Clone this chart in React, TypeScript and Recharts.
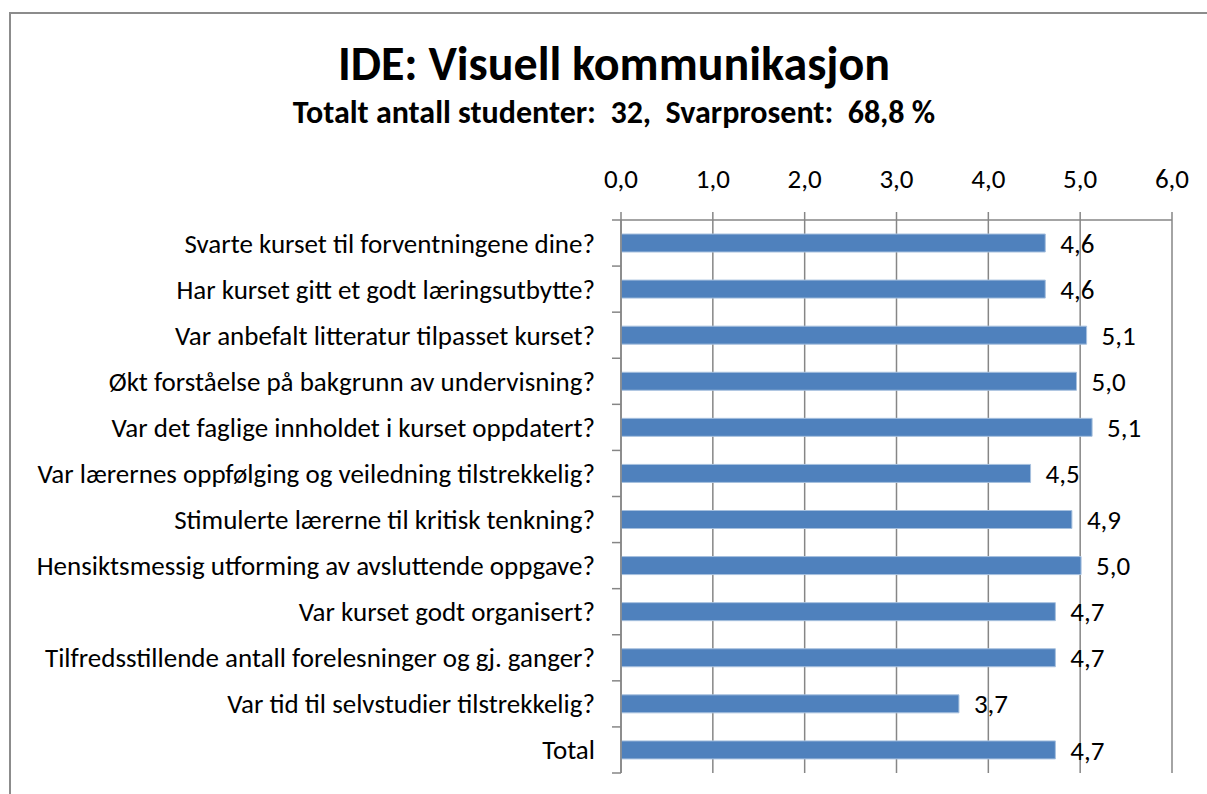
import React from "react";
import { Bar, BarChart, CartesianGrid, LabelList, XAxis, YAxis } from "recharts";

// Survey questions, top to bottom as they appear in the chart.
const QUESTIONS = [
  "Svarte kurset til forventningene dine?",
  "Har kurset gitt et godt læringsutbytte?",
  "Var anbefalt litteratur tilpasset kurset?",
  "Økt forståelse på bakgrunn av undervisning?",
  "Var det faglige innholdet i kurset oppdatert?",
  "Var lærernes oppfølging og veiledning tilstrekkelig?",
  "Stimulerte lærerne til kritisk tenkning?",
  "Hensiktsmessig utforming av avsluttende oppgave?",
  "Var kurset godt organisert?",
  "Tilfredsstillende antall forelesninger og gj. ganger?",
  "Var tid til selvstudier tilstrekkelig?",
  "Total",
];

// Mean scores.
const SCORES = [4.62, 4.62, 5.07, 4.96, 5.13, 4.46, 4.91, 5.01, 4.73, 4.73, 3.68, 4.73];

const X_TICKS = [0, 1, 2, 3, 4, 5, 6];

const TITLE = "IDE: Visuell kommunikasjon";
const SUBTITLE = "Totalt antall studenter:  32,  Svarprosent:  68,8 %";

const FONT = "Carlito, Calibri, Lato, sans-serif";
const BAR_COLOR = "#4f81bd";
const AXIS_COLOR = "#868686";
const TEXT_SIZE = 27;

const fmt = (v: number) => v.toFixed(1).replace(".", ",");

const rows = QUESTIONS.map((q, i) => ({ q, score: SCORES[i] }));

// Excel-style category tick: label at the band centre, tick mark on the band edge.
const CategoryTick = (props: any) => {
  const { x, y, payload, index } = props;
  const band = 553 / QUESTIONS.length;
  const axisX = x + 26;
  const last = index === QUESTIONS.length - 1;

  return (
    <g>
      <text
        dominantBaseline="central"
        fill="#000"
        fontFamily={FONT}
        fontSize={TEXT_SIZE}
        textAnchor="end"
        x={x}
        y={y}
      >
        {payload.value}
      </text>
      <line stroke={AXIS_COLOR} strokeWidth={1.5} x1={axisX - 9} x2={axisX} y1={y - band / 2} y2={y - band / 2} />
      {last && (
        <line stroke={AXIS_COLOR} strokeWidth={1.5} x1={axisX - 9} x2={axisX} y1={y + band / 2} y2={y + band / 2} />
      )}
    </g>
  );
};

export default function App() {
  return (
    <div
      style={{
        position: "absolute",
        left: 0,
        top: 0,
        width: 1207,
        height: 794,
        background: "#fff",
        overflow: "hidden",
        fontFamily: FONT,
      }}
    >
      <div
        style={{
          position: "absolute",
          left: 9,
          top: 12,
          width: 1300,
          height: 900,
          borderTop: "2px solid #8c8c8c",
          borderLeft: "2px solid #8c8c8c",
        }}
      />
      <div
        style={{
          position: "absolute",
          left: 0,
          top: 34,
          width: 1228,
          textAlign: "center",
          fontSize: 48,
          fontWeight: 700,
          lineHeight: "60px",
        }}
      >
        {TITLE}
      </div>
      <div
        style={{
          position: "absolute",
          left: 0,
          top: 94,
          width: 1228,
          textAlign: "center",
          fontSize: 32,
          fontWeight: 700,
          lineHeight: "38px",
          whiteSpace: "pre",
        }}
      >
        {SUBTITLE}
      </div>
      <div style={{ position: "absolute", left: 0, top: 0 }}>
        <BarChart
          barSize={18}
          data={rows}
          height={794}
          layout="vertical"
          margin={{ top: 180, right: 35, bottom: 21, left: 0 }}
          width={1207}
        >
          <CartesianGrid horizontal={false} stroke={AXIS_COLOR} strokeWidth={1.5} />
          <XAxis
            axisLine={{ stroke: AXIS_COLOR, strokeWidth: 1.5 }}
            domain={[0, 6]}
            height={40}
            orientation="top"
            tick={{ fill: "#000", fontSize: TEXT_SIZE, fontFamily: FONT }}
            tickFormatter={fmt}
            tickLine={{ stroke: AXIS_COLOR, strokeWidth: 1.5 }}
            tickMargin={24}
            tickSize={8}
            ticks={X_TICKS}
            type="number"
          />
          <YAxis
            axisLine={{ stroke: AXIS_COLOR, strokeWidth: 1.5 }}
            dataKey="q"
            interval={0}
            tick={<CategoryTick />}
            tickLine={false}
            tickMargin={0}
            tickSize={26}
            type="category"
            width={621}
          />
          <Bar dataKey="score" fill={BAR_COLOR} isAnimationActive={false} stroke="#a7c0de" strokeWidth={1}>
            <LabelList
              dataKey="score"
              fill="#000"
              fontFamily={FONT}
              fontSize={TEXT_SIZE}
              formatter={(v: any) => fmt(Number(v))}
              offset={15}
              position="right"
            />
          </Bar>
        </BarChart>
      </div>
    </div>
  );
}
